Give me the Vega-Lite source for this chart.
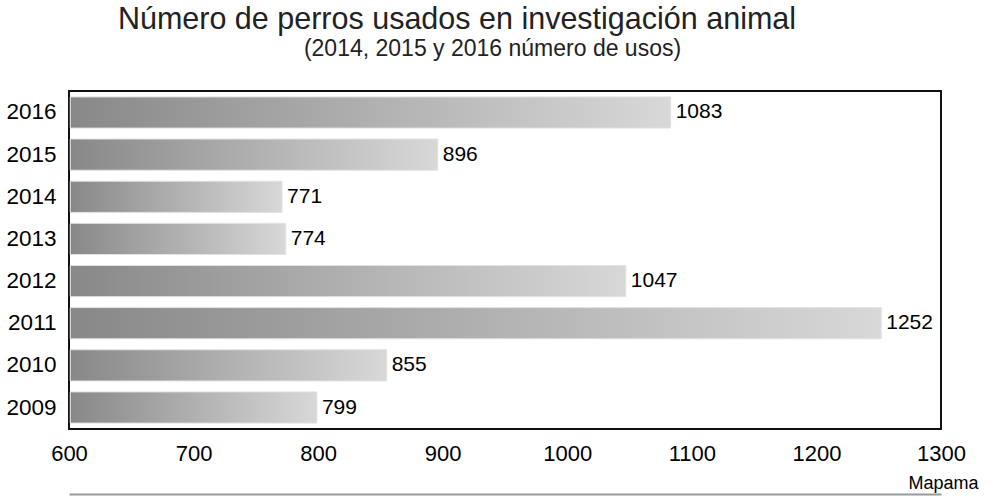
{
  "$schema": "https://vega.github.io/schema/vega-lite/v6.json",
  "width": 872,
  "height": 338,
  "autosize": "none",
  "padding": {"left": 69, "top": 91, "right": 59, "bottom": 68},
  "background": "white",
  "title": {"text": "Número de perros usados en investigación animal", "fontSize": 30.5, "font": "Liberation Sans", "fontWeight": "normal", "color": "#222", "anchor": "middle", "dx": -48, "offset": 2},
  "config": {"view": {"stroke": "#111", "strokeWidth": 2}, "font": "Liberation Sans"},
  "data": {"values": [
    {"year": "2016", "value": 1083},
    {"year": "2015", "value": 896},
    {"year": "2014", "value": 771},
    {"year": "2013", "value": 774},
    {"year": "2012", "value": 1047},
    {"year": "2011", "value": 1252},
    {"year": "2010", "value": 855},
    {"year": "2009", "value": 799}
  ]},
  "encoding": {
    "y": {"field": "year", "type": "nominal", "sort": "descending",
      "scale": {"paddingInner": 0.26, "paddingOuter": 0.14},
      "axis": {"title": null, "ticks": false, "domain": false, "labelFontSize": 22.5, "labelColor": "#000", "labelPadding": 13}}
  },
  "layer": [
    {
      "mark": {"type": "bar", "color": {"gradient": "linear", "x1": 0, "x2": 1, "y1": 0, "y2": 0, "stops": [{"offset": 0, "color": "#888888"}, {"offset": 1, "color": "#d8d8d8"}]}, "stroke": "#e2e2e2", "strokeWidth": 1},
      "encoding": {
        "x": {"field": "value", "type": "quantitative",
          "scale": {"domain": [600, 1300], "zero": false, "nice": false},
          "axis": {"values": [600, 700, 800, 900, 1000, 1100, 1200, 1300], "format": "d", "ticks": false, "domain": false, "grid": false, "labelFontSize": 22, "labelColor": "#000", "labelPadding": 14, "labelFlush": false, "title": null}},
        "x2": {"datum": 601}
      }
    },
    {
      "mark": {"type": "text", "align": "left", "dx": 5, "baseline": "middle", "fontSize": 21, "color": "#000"},
      "encoding": {
        "x": {"field": "value", "type": "quantitative",
          "axis": {"orient": "top", "labels": false, "ticks": false, "domain": false, "grid": false,
            "title": "(2014, 2015 y 2016 número de usos)", "titleFontSize": 23, "titleLimit": 800, "titleFontWeight": "normal", "titleX": 423, "titleY": -36, "titleBaseline": "alphabetic", "titleColor": "#222"}},
        "text": {"field": "value"}
      }
    },
    {
      "mark": {"type": "tick", "opacity": 0},
      "encoding": {
        "x": {"field": "value", "type": "quantitative",
          "axis": {"orient": "bottom", "offset": 65, "labels": false, "ticks": false, "domain": true, "domainColor": "#999", "domainWidth": 2, "grid": false,
            "title": "Mapama", "titleFontSize": 18, "titleLimit": 500, "titleFontWeight": "normal", "titleX": 909, "titleY": -6, "titleAlign": "right", "titleBaseline": "alphabetic", "titleColor": "#000"}}
      }
    }
  ],
  "resolve": {"axis": {"x": "independent"}}
}
